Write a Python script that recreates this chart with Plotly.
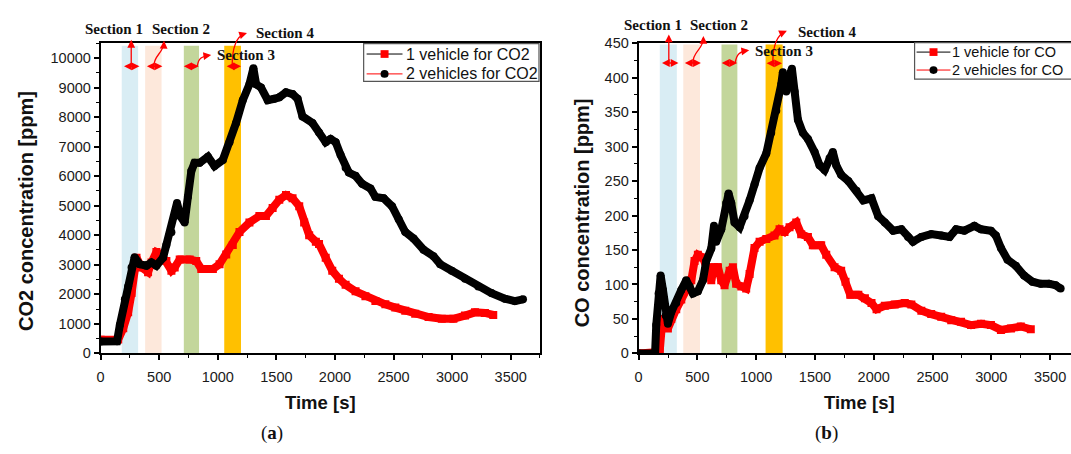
import plotly.graph_objects as go

W, H = 1071, 454

# ---------------- data ----------------
# (a) CO2, 1 vehicle
t_co2_one = [0, 150, 193, 235, 264, 283, 306, 349, 405, 434, 476, 519, 561, 604, 632, 675, 760, 816, 859, 958,
             1015, 1072, 1128, 1185, 1270, 1355, 1411, 1468, 1525, 1582, 1638, 1695, 1737, 1780, 1837, 1864, 1921,
             1977, 2034, 2091, 2176, 2260, 2345, 2430, 2515, 2600, 2685, 2799, 2912, 3011, 3110, 3195, 3280, 3351]
v_co2_one = [460, 470, 850, 1390, 2040, 2910, 3240, 2910, 2750, 3080, 3430, 3350, 3130, 2800, 2910, 3180, 3180, 3130,
             2860, 2860, 3020, 3350, 3670, 4110, 4430, 4650, 4650, 4920, 5200, 5360, 5250, 4980, 4430, 4000, 3780,
             3700, 3240, 2800, 2530, 2320, 2100, 1935, 1770, 1660, 1550, 1445, 1340, 1230, 1170, 1170, 1280, 1390,
             1370, 1300]

# (a) CO2, 2 vehicles
t_co2_two = [0, 140, 164, 207, 235, 264, 290, 334, 391, 434, 476, 533, 561, 604, 632, 652, 680, 717, 745, 774, 802,
             845, 916, 972, 1043, 1100, 1156, 1213, 1270, 1304, 1327, 1369, 1426, 1482, 1525, 1582, 1638, 1681, 1723,
             1808, 1864, 1921, 1963, 2006, 2048, 2091, 2119, 2176, 2232, 2303, 2345, 2416, 2487, 2544, 2600, 2671,
             2756, 2841, 2898, 2997, 3110, 3223, 3336, 3450, 3535, 3605]
v_co2_two = [400, 410, 960, 1830, 2260, 2910, 3250, 3020, 2970, 3080, 2970, 3240, 3670, 4100, 4650, 5090, 4650, 4430,
             5300, 6170, 6450, 6450, 6660, 6340, 6550, 7150, 7800, 8570, 9110, 9650, 9110, 9000, 8570, 8620, 8670,
             8840, 8780, 8620, 8020, 7800, 7480, 7150, 7260, 7150, 6720, 6280, 6120, 6010, 5740, 5580, 5300, 5250,
             4980, 4540, 4110, 3890, 3510, 3290, 3020, 2800, 2530, 2260, 2040, 1850, 1770, 1830]

# (b) CO, 1 vehicle
t_co_one = [0, 179, 198, 221, 249, 278, 320, 363, 405, 448, 476, 504, 547, 575, 618, 641, 675, 703, 731, 774, 802,
            830, 873, 915, 944, 986, 1029, 1086, 1156, 1199, 1241, 1284, 1341, 1383, 1440, 1482, 1553, 1596, 1667,
            1723, 1760, 1800, 1869, 1925, 1981, 2024, 2094, 2179, 2264, 2320, 2405, 2489, 2574, 2659, 2743, 2828,
            2913, 2997, 3082, 3167, 3251, 3336]
v_co_one = [0, 2, 41, 50, 36, 50, 64, 78, 92, 106, 134, 143, 139, 125, 106, 125, 125, 106, 99, 120, 125, 101, 97, 94,
            115, 153, 162, 166, 171, 180, 176, 183, 190, 173, 169, 157, 157, 143, 125, 120, 104, 85, 85, 80, 73, 64,
            69, 71, 73, 71, 62, 57, 53, 48, 46, 41, 43, 41, 34, 36, 39, 35]

# (b) CO, 2 vehicles
t_co_two = [0, 140, 150, 170, 187, 207, 230, 249, 278, 320, 363, 405, 434, 462, 504, 547, 575, 618, 641, 660, 703,
            745, 765, 788, 816, 859, 901, 944, 986, 1029, 1086, 1128, 1171, 1213, 1227, 1256, 1284, 1304, 1327, 1355,
            1397, 1440, 1497, 1539, 1582, 1624, 1652, 1681, 1723, 1784, 1854, 1911, 1981, 2038, 2094, 2165, 2235,
            2292, 2334, 2405, 2489, 2574, 2645, 2701, 2771, 2856, 2913, 2997, 3039, 3082, 3138, 3209, 3279, 3350,
            3420, 3491, 3547, 3590]
v_co_two = [0, 0, 41, 87, 113, 92, 55, 43, 60, 73, 92, 106, 97, 87, 90, 106, 134, 152, 185, 162, 180, 218, 232, 218,
            190, 183, 199, 222, 245, 269, 290, 320, 352, 390, 408, 380, 404, 413, 380, 339, 320, 311, 292, 273, 266,
            283, 292, 273, 259, 250, 236, 222, 225, 199, 190, 178, 180, 169, 162, 169, 173, 171, 169, 180, 178, 185,
            180, 178, 171, 153, 136, 127, 113, 104, 101, 101, 99, 94]

# section bands (start, end) in seconds
sections_a = [(180, 320), (380, 520), (710, 840), (1055, 1198)]
sections_b = [(180, 325), (380, 522), (705, 840), (1080, 1225)]
section_colors = ["#d9edf4", "#fde8db", "#c3d69b", "#ffc000"]

legend_a = ["1 vehicle for CO2", "2 vehicles for CO2"]
legend_b = ["1 vehicle for CO", "2 vehicles for CO"]

RED = "#ff0000"
BLACK = "#000000"
SANS = "Liberation Sans, Arial, sans-serif"
SERIF = "Liberation Serif, Times New Roman, serif"


def px(x):
    return x / W


def py(y):
    return 1 - y / H


fig = go.Figure()

# data traces
for t, v, col, sym, xa, ya, nm in [
    (t_co2_one, v_co2_one, RED, "square", "x", "y", legend_a[0]),
    (t_co2_two, v_co2_two, BLACK, "circle", "x", "y", legend_a[1]),
    (t_co_one, v_co_one, RED, "square", "x2", "y2", legend_b[0]),
    (t_co_two, v_co_two, BLACK, "circle", "x2", "y2", legend_b[1]),
]:
    fig.add_trace(go.Scatter(x=t, y=v, mode="lines+markers", xaxis=xa, yaxis=ya, showlegend=False, name=nm,
                             line=dict(color=col, width=8),
                             marker=dict(color=col, symbol=sym, size=8, line=dict(width=0))))

shapes = []
for (s, e), c in zip(sections_a, section_colors):
    shapes.append(dict(type="rect", xref="x", yref="y domain", x0=s, x1=e, y0=0, y1=0.992,
                       fillcolor=c, line=dict(width=0), layer="below"))
for (s, e), c in zip(sections_b, section_colors):
    shapes.append(dict(type="rect", xref="x2", yref="y2 domain", x0=s, x1=e, y0=0, y1=0.996,
                       fillcolor=c, line=dict(width=0), layer="below"))

annotations = []


def text(x, y, s, size, family=SANS, angle=0, color="#111111", xanchor="center"):
    annotations.append(dict(x=px(x), y=py(y), xref="paper", yref="paper", text=s, showarrow=False,
                            textangle=angle, xanchor=xanchor, yanchor="middle",
                            font=dict(family=family, size=size, color=color)))


def arrow(x0, y0, x1, y1, both=False):
    annotations.append(dict(x=px(x1), y=py(y1), xref="paper", yref="paper", ax=x0 - x1, ay=y0 - y1,
                            axref="pixel", ayref="pixel", text="", showarrow=True,
                            arrowhead=2, arrowsize=1.2, arrowwidth=1.3, arrowcolor=RED,
                            arrowside="end+start" if both else "end"))


def curve(p0, c1, c2, p1):
    path = "M {},{} C {},{} {},{} {},{}".format(px(p0[0]), py(p0[1]), px(c1[0]), py(c1[1]),
                                                 px(c2[0]), py(c2[1]), px(p1[0]), py(p1[1]))
    shapes.append(dict(type="path", xref="paper", yref="paper", path=path, line=dict(color=RED, width=1.3)))
    dx, dy = p1[0] - c2[0], p1[1] - c2[1]
    n = (dx * dx + dy * dy) ** 0.5 or 1
    arrow(p1[0] - dx / n * 3, p1[1] - dy / n * 3, p1[0] + dx / n * 2, p1[1] + dy / n * 2)


def legend_box(x0, y0, x1, y1, rows, labels, line_start, line_end, text_x, size):
    shapes.append(dict(type="rect", xref="paper", yref="paper", x0=px(x0), x1=px(x1), y0=py(y1), y1=py(y0),
                       fillcolor="white", line=dict(color="#555555", width=1.2)))
    cx = (line_start + line_end) / 2
    # row 1: black line, red square
    shapes.append(dict(type="line", xref="paper", yref="paper", x0=px(line_start), x1=px(line_end),
                       y0=py(rows[0]), y1=py(rows[0]), line=dict(color=BLACK, width=1)))
    shapes.append(dict(type="rect", xref="paper", yref="paper", x0=px(cx - 4), x1=px(cx + 4),
                       y0=py(rows[0] + 4), y1=py(rows[0] - 4), fillcolor=RED, line=dict(width=0)))
    # row 2: red line, black circle
    shapes.append(dict(type="line", xref="paper", yref="paper", x0=px(line_start), x1=px(line_end),
                       y0=py(rows[1]), y1=py(rows[1]), line=dict(color=RED, width=1)))
    shapes.append(dict(type="circle", xref="paper", yref="paper", x0=px(cx - 4), x1=px(cx + 4),
                       y0=py(rows[1] + 4), y1=py(rows[1] - 4), fillcolor=BLACK, line=dict(width=0)))
    for r, lab in zip(rows, labels):
        text(text_x - 2, r, lab, size, SANS, xanchor="left")


# ---- panel (a) section labels & arrows ----
text(110, 22, "<b>Section 1</b>", 15, SERIF)
text(177.5, 22, "<b>Section 2</b>", 15, SERIF)
text(243, 49, "<b>Section 3</b>", 15, SERIF)
text(282, 26, "<b>Section 4</b>", 15, SERIF)
arrow(119, 60.5, 136, 60.5, both=True)
arrow(127.7, 60.5, 127.7, 33)
arrow(142, 60.5, 159, 60.5, both=True)
curve((150.5, 60.5), (150, 49), (160, 47), (160.5, 36))
arrow(179, 60.5, 195.5, 60.5, both=True)
curve((194, 60.5), (195, 52), (199, 50), (206, 49))
arrow(222, 60.5, 238, 60.5, both=True)
curve((229, 60.5), (229, 45), (231, 30), (242, 26.5))

# ---- panel (b) section labels & arrows ----
text(651, 17.5, "<b>Section 1</b>", 15, SERIF)
text(718, 17.5, "<b>Section 2</b>", 15, SERIF)
text(783, 44.5, "<b>Section 3</b>", 15, SERIF)
text(826, 24.5, "<b>Section 4</b>", 15, SERIF)
arrow(659, 57, 677, 57, both=True)
arrow(667.3, 57, 667.3, 27.5)
arrow(682, 57, 699.5, 57, both=True)
curve((691.5, 57), (691, 45), (702, 43), (702, 31))
arrow(719, 57, 736, 57, both=True)
curve((734, 57), (735, 48), (739, 45), (746, 44))
arrow(764, 57.3, 781, 57.3, both=True)
curve((771.7, 57.3), (771.7, 42), (774, 29), (784, 24.5))

# legends (drawn as in the original: black line with red square, red line with black circle)
legend_box(361, 37, 537, 76, (47.7, 68.3), legend_a, 364, 400, 404, 16)
legend_box(914, 36, 1085, 73.7, (45.7, 64.3), legend_b, 916, 950, 952, 14.5)

# axis titles and panel labels
text(21.5, 210, "<b>CO2 concentration [ppm]</b>", 20, SANS, angle=-90)
text(580, 212, "<b>CO concentration [ppm]</b>", 20, SANS, angle=-90)
text(318, 409, "<b>Time [s]</b>", 18.5, SANS)
text(859, 409, "<b>Time [s]</b>", 18.5, SANS)
text(269, 441, "(<b>a</b>)", 19, SERIF)
text(826, 441, "(<b>b</b>)", 19, SERIF)

ydom = [py(358), py(36.5)]
common_axis = dict(showline=True, linecolor="#000000", linewidth=1.8, ticks="outside", ticklen=5, tickwidth=1.5,
                   tickcolor="#000000", showgrid=False, zeroline=False, tickformat="d",
                   tickfont=dict(family=SANS, size=14.5, color="#1a1a1a"))
minor = dict(ticks="outside", ticklen=3, tickcolor="#000000", tickwidth=1.2)

fig.update_layout(
    width=W, height=H, margin=dict(l=0, r=0, t=0, b=0),
    paper_bgcolor="white", plot_bgcolor="white", showlegend=False,
    xaxis=dict(domain=[px(97), px(538)], range=[0, 3750], dtick=500, anchor="y", mirror=True,
               minor=dict(dtick=250, **minor), ticklabelstandoff=4, **common_axis),
    yaxis=dict(domain=ydom, range=[0, 10500], dtick=1000, anchor="x", mirror=True,
               minor=dict(dtick=500, **minor), **common_axis),
    xaxis2=dict(domain=[px(637), 1.0], range=[0, 3678], dtick=500, anchor="y2", mirror=True,
                minor=dict(dtick=250, **minor), ticklabelstandoff=4, **common_axis),
    yaxis2=dict(domain=ydom, range=[0, 450], dtick=50, anchor="x2", mirror=False,
                minor=dict(dtick=25, **minor), **common_axis),
    shapes=shapes, annotations=annotations,
)

fig.write_html("out.html")
